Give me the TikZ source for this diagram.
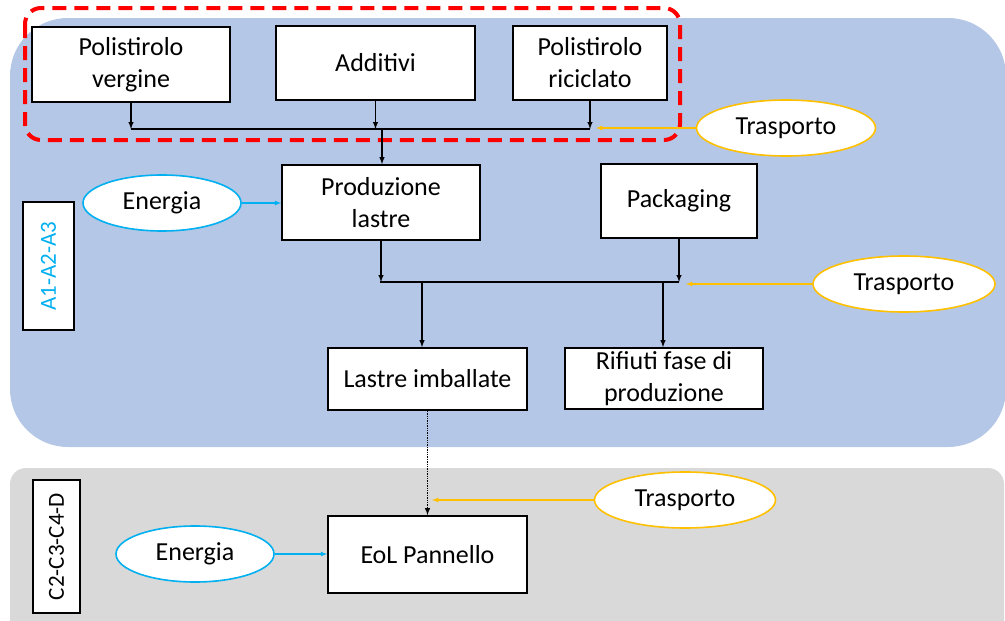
\documentclass[tikz,border=0pt]{standalone}
\usepackage{fontspec}
\setmainfont{Carlito}
\usepackage{tikz}
\usetikzlibrary{shapes, arrows}
\definecolor{fasea}{HTML}{B4C7E7}
\definecolor{fasec}{HTML}{D9D9D9}
\definecolor{energia}{HTML}{00B0F0}
\definecolor{trasp}{HTML}{FFC000}

\begin{document}
\begin{tikzpicture}[x=1pt,y=-1pt,
        blocco/.style={draw, fill=white, line width=1.6pt, align=center, inner sep=0pt,
            font=\fontsize{26}{32}\selectfont},
        fonte/.style={ellipse, draw, fill=white, line width=1.6pt, inner sep=0pt,
            minimum width=158pt, minimum height=56pt, font=\fontsize{26}{32}\selectfont},
        fase/.style={draw, fill=white, line width=1.6pt, rotate=90, inner sep=0pt,
            font=\fontsize{23}{28}\selectfont},
        flusso/.style={-latex, line width=1.4pt},
        forn/.style={-latex, line width=1.2pt}]
    \useasboundingbox (0,0) rectangle (1005,621);
    % fasi
    \fill[fasea, rounded corners=58pt] (10,18) rectangle (1006,447);
    \fill[fasec, rounded corners=16pt] (10,468) rectangle (1004,640);
    \draw[red, line width=4pt, dash pattern=on 14pt off 8pt, rounded corners=16pt]
        (25,8) rectangle (680,140);
    \node[fase, text=energia, minimum width=128pt, minimum height=51pt] (lab1) at (48.5,266) {A1-A2-A3};
    \node[fase, minimum width=133pt, minimum height=47pt] (lab2) at (56.5,546.5) {C2-C3-C4-D};

    % materie prime
    \node[blocco, minimum width=198pt, minimum height=75pt] (verg) at (131,64.5) {Polistirolo\\vergine};
    \node[blocco, minimum width=199pt, minimum height=74pt] (add) at (375.5,63) {Additivi};
    \node[blocco, minimum width=154pt, minimum height=74pt] (ric) at (590,63) {Polistirolo\\riciclato};
    \node[blocco, minimum width=198pt, minimum height=75pt] (prod) at (381,202.5) {Produzione\\lastre};
    \node[blocco, minimum width=156pt, minimum height=74pt] (pack) at (679,201) {Packaging};
    \node[blocco, minimum width=199pt, minimum height=62pt] (lastre) at (427.5,379) {Lastre imballate};
    \node[blocco, minimum width=198pt, minimum height=61pt] (rif) at (664,378.5) {Rifiuti fase di\\produzione};
    \node[blocco, minimum width=199pt, minimum height=77pt] (eol) at (427.5,554.5) {EoL Pannello};

    \node[fonte, draw=energia] (en1) at (162,203) {Energia};
    \node[fonte, draw=energia] (en2) at (195,554) {Energia};
    \node[fonte, draw=trasp, minimum width=179pt] (tr1) at (786,128) {Trasporto};
    \node[fonte, draw=trasp, minimum width=182pt] (tr2) at (904,284) {Trasporto};
    \node[fonte, draw=trasp, minimum width=181pt] (tr3) at (685,500) {Trasporto};

    \coordinate (bus1) at (382,129);
    \coordinate (bus2) at (380,282);
    \coordinate (ins1) at (596,128);
    \coordinate (ins2) at (686,284);
    \coordinate (ins3) at (432,500);
    \coordinate (uscA) at (422,282);
    \coordinate (uscB) at (663,282);

    % collegamenti
    \draw[line width=1.4pt] (verg.south |- bus1) -- (ric.south |- bus1);
    \foreach \n in {verg, add, ric}
        \draw[flusso] (\n.south) -- (\n.south |- bus1);
    \draw[flusso] (bus1) -- (bus1 |- prod.north);
    \draw[line width=1.4pt] (bus2) -- (pack.south |- bus2);
    \draw[flusso] (prod.south) -- (prod.south |- bus2);
    \draw[flusso] (pack.south) -- (pack.south |- bus2);
    \draw[flusso] (uscA) -- (uscA |- lastre.north);
    \draw[flusso] (uscB) -- (uscB |- rif.north);
    \draw[flusso, densely dotted] (lastre.south) -- (eol.north);

    \draw[forn, energia] (en1.east) -- (prod.west |- en1.east);
    \draw[forn, energia] (en2.east) -- (eol.west |- en2.east);
    \draw[forn, trasp] (tr1.west) -- (ins1);
    \draw[forn, trasp] (tr2.west) -- (ins2);
    \draw[forn, trasp] (tr3.west) -- (ins3);
\end{tikzpicture}
\end{document}
